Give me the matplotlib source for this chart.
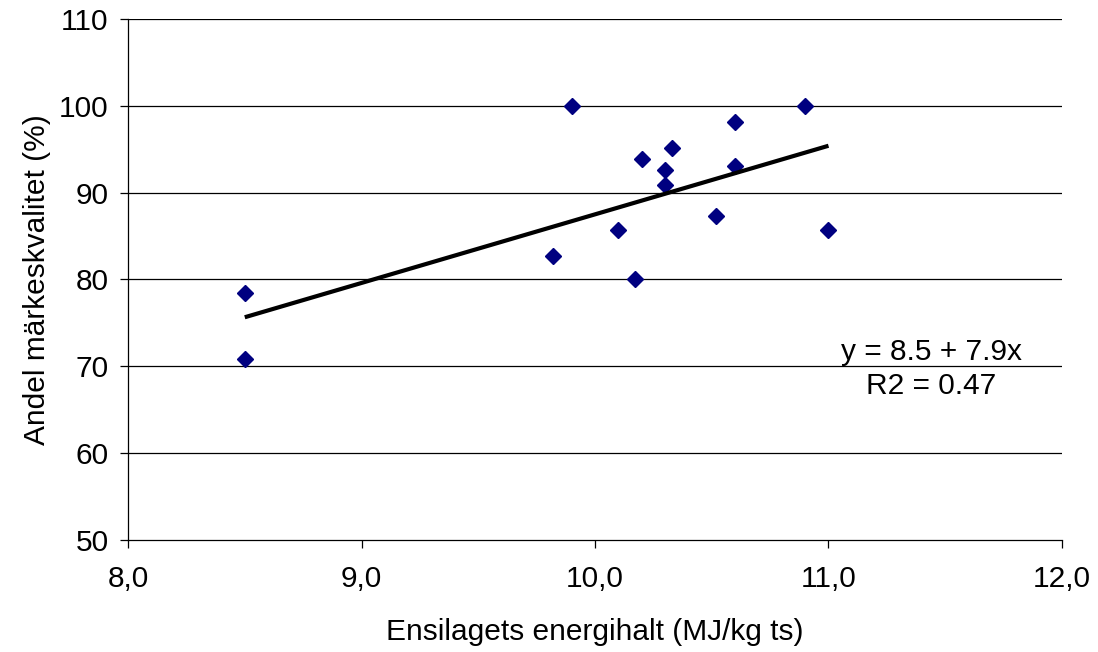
import matplotlib
matplotlib.use("Agg")
import matplotlib.pyplot as plt
import numpy as np

plt.rcParams['font.family'] = ['Liberation Sans', 'DejaVu Sans']

# Silage energy content (MJ/kg DM) vs share of brand quality (%)
energy = [8.5, 8.5, 9.9, 9.82, 10.1, 10.17, 10.2, 10.3, 10.3, 10.33, 10.52, 10.6, 10.6, 10.9, 11.0]
quality = [78.4, 70.8, 100.0, 82.7, 85.7, 80.0, 93.9, 92.6, 90.9, 95.1, 87.3, 98.1, 93.1, 100.0, 85.7]

# Regression: y = 8.5 + 7.9x over the data range
intercept = 8.5
slope = 7.9
fit_x = [8.5, 11.0]

x_ticks = [8.0, 9.0, 10.0, 11.0, 12.0]
x_tick_labels = ['8,0', '9,0', '10,0', '11,0', '12,0']
y_ticks = [50, 60, 70, 80, 90, 100, 110]

FS = 21.5

fig = plt.figure(figsize=(10.98, 6.52), dpi=100)
ax = fig.add_axes([0.1166, 0.1718, 0.9672 - 0.1166, 0.9709 - 0.1718])

for yt in y_ticks[1:]:
    ax.axhline(yt, color='black', lw=0.9, zorder=1)

ax.plot(energy, quality, linestyle='none', marker='D', markersize=8,
        color='#000080', zorder=3)

fx = np.array(fit_x)
ax.plot(fx, intercept + slope * fx, color='black', lw=3, zorder=4,
        solid_capstyle='butt')

ax.text(11.44, 69.7, 'y = 8.5 + 7.9x\nR2 = 0.47', ha='center', va='center',
        fontsize=FS, linespacing=1.3, zorder=5)

ax.set_xlim(8.0, 12.0)
ax.set_ylim(50, 110)
ax.set_xticks(x_ticks)
ax.set_xticklabels(x_tick_labels)
ax.set_yticks(y_ticks)
ax.tick_params(axis='both', labelsize=FS, direction='out', length=6,
               width=0.9, color='black')
ax.tick_params(axis='x', pad=12)
ax.tick_params(axis='y', pad=8)

for side in ('top', 'right'):
    ax.spines[side].set_visible(False)
for side in ('left', 'bottom'):
    ax.spines[side].set_linewidth(0.9)

ax.set_xlabel('Ensilagets energihalt (MJ/kg ts)', fontsize=FS, labelpad=18)
ax.set_ylabel('Andel märkeskvalitet (%)', fontsize=FS, labelpad=6)

fig.savefig('out.png', dpi=100, facecolor='white')
